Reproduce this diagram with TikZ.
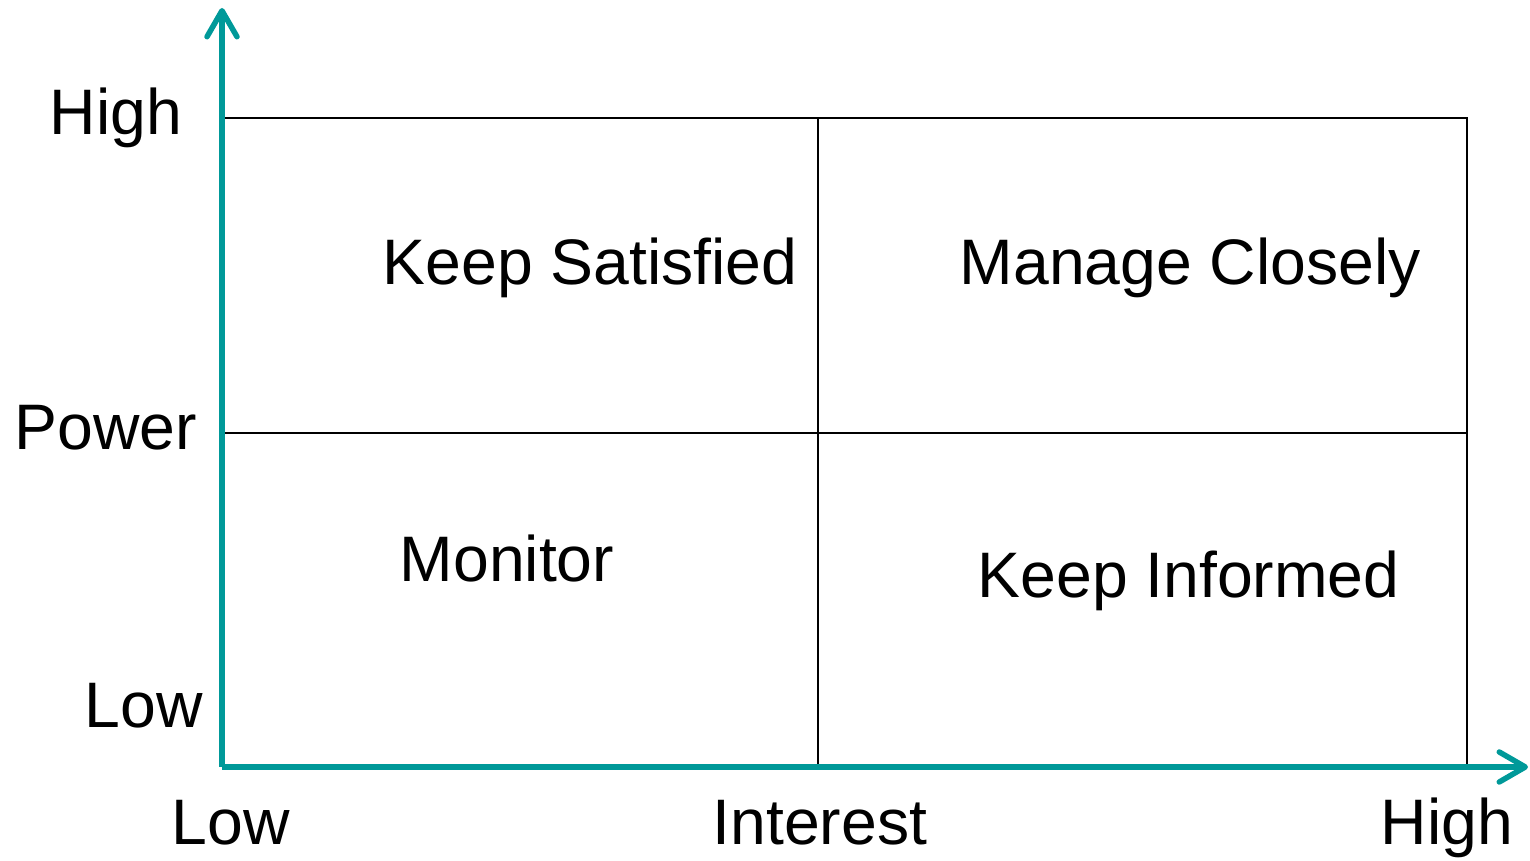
\documentclass[tikz,border=0pt]{standalone}
\usepackage{fontspec}
\setmainfont{Liberation Sans}
\usepackage{tikz}
\usetikzlibrary{arrows.meta}
\usetikzlibrary{positioning}
\definecolor{tealaxis}{RGB}{0,153,153}

\begin{document}
\begin{tikzpicture}[font=\fontsize{18.3}{22}\selectfont,
  lbl/.style={anchor=base west,inner sep=0pt},
  axis/.style={draw=tealaxis,line width=0.055cm,-{Straight Barb[length=2.6mm,width=3mm,round]}},
  grid/.style={draw=black,line width=0.6pt}]
\useasboundingbox (0,0) rectangle (15.3,8.61);

  \coordinate (O)    at (2.22,0.94);
  \coordinate (ytop) at (2.22,8.53);
  \coordinate (xend) at (15.28,0.94);
  \coordinate (tl)   at (2.22,7.43);
  \coordinate (tm)   at (8.18,7.43);
  \coordinate (tr)   at (14.67,7.43);
  \coordinate (ml)   at (2.22,4.28);
  \coordinate (mr)   at (14.67,4.28);
  \coordinate (bm)   at (8.18,0.94);
  \coordinate (br)   at (14.67,0.94);

% grid
\path[grid] (tl) -- (tr) -- (br)
            (ml) -- (mr)
            (tm) -- (bm);

% axes
\path[axis] (O) -- (ytop);
\path[axis] (O) -- (xend);

% axis labels
  \node[lbl] (phigh)  at (0.49,7.26) {High};
  \node[lbl] (power)  at (0.14,4.11) {Power};
  \node[lbl] (plow)   at (0.84,1.33) {Low};
  \node[lbl] (ilow)   at (1.71,0.16) {Low};
  \node[lbl] (inter)  at (7.12,0.16) {Interest};
  \node[lbl] (ihigh)  at (13.80,0.16) {High};

% quadrants
  \node[lbl] (sat)    at (3.82,5.76) {Keep Satisfied};
  \node[lbl] (manage) at (9.59,5.76) {Manage Closely};
  \node[lbl] (mon)    at (3.99,2.79) {Monitor};
  \node[lbl] (inform) at (9.77,2.63) {Keep Informed};
\end{tikzpicture}
\end{document}
